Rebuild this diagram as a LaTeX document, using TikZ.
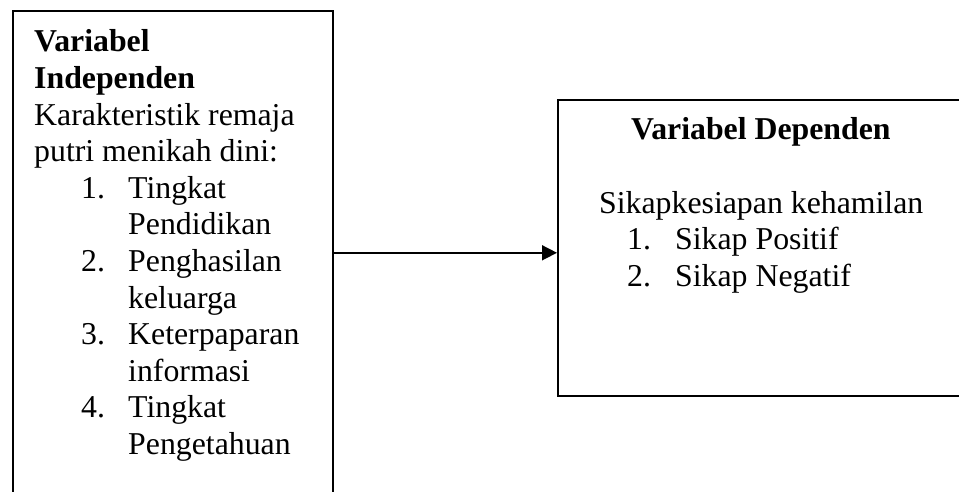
\documentclass[tikz,border=0pt]{standalone}
\usepackage{fontspec}
\setmainfont{Liberation Serif}
\usetikzlibrary{arrows.meta}

\begin{document}
\begin{tikzpicture}[x=1pt,y=-1pt]
	\tikzstyle{var_box}= [draw,rectangle,line width=1.6pt,inner sep=0pt,anchor=north west]
	\tikzstyle{var_text}= [inner sep=0pt,anchor=base west,font=\fontsize{31.8}{36.6}\selectfont]
	\useasboundingbox (0,0) rectangle (959,492);
	\clip (0,0) rectangle (959,492);
	% the two boxes (both run past the edge of the page)
	\node [var_box,minimum width=320pt,minimum height=484pt] (indep) at (12,10) {};
	\node [var_box,minimum width=420pt,minimum height=296pt] (dep) at (557,99) {};
	% texts
	\node [var_text] (indep_txt) at (34,52) {\parbox[t]{290pt}{\raggedright
		\textbf{Variabel}\\
		\textbf{Independen}\\
		Karakteristik remaja\\
		putri menikah dini:\\
		\hspace*{47pt}\makebox[47pt][l]{1.}Tingkat\\
		\hspace*{94pt}Pendidikan\\
		\hspace*{47pt}\makebox[47pt][l]{2.}Penghasilan\\
		\hspace*{94pt}keluarga\\
		\hspace*{47pt}\makebox[47pt][l]{3.}Keterpaparan\\
		\hspace*{94pt}informasi\\
		\hspace*{47pt}\makebox[47pt][l]{4.}Tingkat\\
		\hspace*{94pt}Pengetahuan}};
	\node [var_text] (dep_txt) at (599,140) {\parbox[t]{350pt}{\raggedright
		\hspace*{32pt}\textbf{Variabel Dependen}\\[36.6pt]
		Sikapkesiapan kehamilan\\
		\hspace*{28pt}\makebox[48pt][l]{1.}Sikap Positif\\
		\hspace*{28pt}\makebox[48pt][l]{2.}Sikap Negatif}};
	% connector
	\draw [line width=1.6pt,-{Triangle[length=15pt,width=15pt]}] (indep.east) -- (indep.east -| dep.west);
\end{tikzpicture}
\end{document}
